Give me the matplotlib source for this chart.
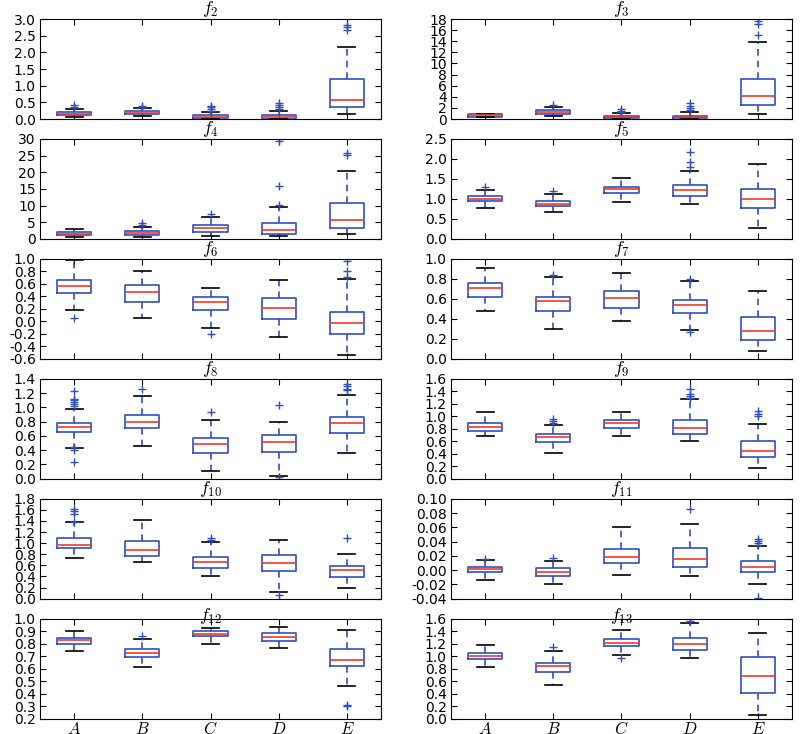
import matplotlib
matplotlib.use('Agg')
import matplotlib.pyplot as plt
from matplotlib.ticker import MultipleLocator, FormatStrFormatter

plt.rcParams['font.family'] = ['DejaVu Sans']
plt.rcParams['mathtext.fontset'] = 'cm'
plt.rcParams['axes.unicode_minus'] = False

categories = ['A', 'B', 'C', 'D', 'E']
titles = ['f_{2}', 'f_{3}', 'f_{4}', 'f_{5}', 'f_{6}', 'f_{7}',
          'f_{8}', 'f_{9}', 'f_{10}', 'f_{11}', 'f_{12}', 'f_{13}']

# box statistics per panel, one value per category A..E
q1 = [
    [0.12, 0.14, 0.02, 0.01, 0.37],
    [0.42, 0.9, 0.1, 0.1, 2.46],
    [1.1, 1.3, 2.0, 1.5, 3.4],
    [0.95, 0.82, 1.15, 1.07, 0.77],
    [0.46, 0.31, 0.18, 0.045, -0.2],
    [0.617, 0.483, 0.507, 0.463, 0.191],
    [0.653, 0.714, 0.366, 0.376, 0.644],
    [0.765, 0.591, 0.816, 0.714, 0.349],
    [0.906, 0.765, 0.56, 0.495, 0.393],
    [-0.0029, -0.0076, 0.0098, 0.0042, -0.0024],
    [0.801, 0.697, 0.858, 0.823, 0.624],
    [0.95, 0.746, 1.165, 1.101, 0.414],
]
med = [
    [0.15, 0.2, 0.07, 0.05, 0.57],
    [0.72, 1.2, 0.3, 0.3, 4.2],
    [1.6, 1.9, 3.2, 2.7, 5.7],
    [1.01, 0.88, 1.25, 1.22, 1.0],
    [0.565, 0.47, 0.31, 0.22, -0.025],
    [0.71, 0.577, 0.604, 0.537, 0.282],
    [0.724, 0.8, 0.488, 0.517, 0.785],
    [0.827, 0.666, 0.891, 0.805, 0.451],
    [0.97, 0.88, 0.658, 0.64, 0.514],
    [0.0009, -0.002, 0.0183, 0.015, 0.0042],
    [0.828, 0.729, 0.879, 0.855, 0.67],
    [1.009, 0.838, 1.213, 1.187, 0.677],
]
q3 = [
    [0.2, 0.25, 0.12, 0.13, 1.19],
    [0.85, 1.55, 0.55, 0.6, 7.26],
    [2.0, 2.3, 4.1, 4.7, 10.7],
    [1.067, 0.95, 1.3, 1.34, 1.25],
    [0.67, 0.575, 0.39, 0.38, 0.15],
    [0.755, 0.62, 0.678, 0.587, 0.416],
    [0.785, 0.888, 0.573, 0.611, 0.864],
    [0.886, 0.709, 0.94, 0.94, 0.601],
    [1.1, 1.03, 0.755, 0.78, 0.586],
    [0.0042, 0.0023, 0.030, 0.0314, 0.0126],
    [0.844, 0.761, 0.898, 0.887, 0.761],
    [1.052, 0.891, 1.272, 1.283, 0.983],
]
lo = [
    [0.07, 0.1, 0.0, 0.0, 0.15],
    [0.3, 0.5, 0.0, 0.0, 0.84],
    [0.6, 0.7, 0.8, 0.9, 1.4],
    [0.77, 0.68, 0.92, 0.87, 0.27],
    [0.18, 0.06, -0.105, -0.245, -0.535],
    [0.476, 0.30, 0.383, 0.29, 0.08],
    [0.427, 0.456, 0.113, 0.033, 0.366],
    [0.677, 0.419, 0.687, 0.607, 0.166],
    [0.73, 0.668, 0.405, 0.127, 0.193],
    [-0.0137, -0.0189, -0.0067, -0.0076, -0.019],
    [0.74, 0.613, 0.80, 0.766, 0.458],
    [0.827, 0.537, 1.015, 0.966, 0.064],
]
hi = [
    [0.3, 0.33, 0.2, 0.24, 2.16],
    [0.96, 2.2, 1.0, 1.2, 13.8],
    [2.9, 3.7, 6.6, 9.7, 20.4],
    [1.22, 1.13, 1.525, 1.7, 1.87],
    [0.98, 0.8, 0.53, 0.655, 0.68],
    [0.913, 0.815, 0.86, 0.78, 0.674],
    [0.973, 1.156, 0.817, 0.794, 1.175],
    [1.068, 0.854, 1.074, 1.283, 0.875],
    [1.39, 1.42, 1.02, 1.05, 0.81],
    [0.0146, 0.0126, 0.06, 0.0648, 0.0333],
    [0.898, 0.834, 0.925, 0.930, 0.909],
    [1.176, 1.09, 1.417, 1.53, 1.364],
]
fliers = [
    [[0.35, 0.42], [0.36, 0.4], [0.25, 0.3, 0.35, 0.4], [0.3, 0.35, 0.42, 0.48], [2.67, 2.75, 2.82]],
    [[], [2.5], [1.2, 1.5, 1.8], [1.6, 2.0, 2.4, 2.8], [15.2, 17.1, 17.6]],
    [[], [4.2, 4.8], [7.6], [10.2, 15.9, 29.5], [25.3, 25.9]],
    [[1.31], [1.2], [], [1.81, 1.92, 2.17], []],
    [[0.05], [], [-0.2], [], [0.71, 0.81, 0.97]],
    [[], [0.84], [], [0.80, 0.27], []],
    [[1.02, 1.05, 1.08, 1.1, 1.12, 1.23, 0.45, 0.4, 0.23], [1.26], [0.94], [1.03, 0.02], [1.24, 1.26, 1.3, 1.33]],
    [[], [0.9, 0.93, 0.96], [], [1.3, 1.32, 1.35, 1.44], [1.0, 1.04, 1.08]],
    [[1.38, 1.52, 1.58, 1.62], [], [1.05, 1.1], [0.06], [1.1]],
    [[0.016], [0.017], [], [0.085], [0.035, 0.038, 0.041, 0.043, -0.039]],
    [[], [0.86], [], [], [0.31, 0.30]],
    [[], [1.14], [0.97], [1.57], []],
]

# y range and tick step per panel
ylims = [(0, 3.0), (0, 18), (0, 30), (0, 2.5), (-0.6, 1.0), (0, 1.0),
         (0, 1.4), (0, 1.6), (0, 1.8), (-0.04, 0.10), (0.2, 1.0), (0, 1.6)]
ysteps = [0.5, 2, 5, 0.5, 0.2, 0.2, 0.2, 0.2, 0.2, 0.02, 0.1, 0.2]
yfmts = ['%.1f', '%d', '%d', '%.1f', '%.1f', '%.1f',
         '%.1f', '%.1f', '%.1f', '%.2f', '%.1f', '%.1f']

blue = '#2f4fc4'
red = '#f03a2a'

fig, axes = plt.subplots(6, 2, figsize=(8, 7.34), dpi=100)
fig.subplots_adjust(left=0.05, right=0.99, top=0.974, bottom=0.021,
                    wspace=0.205, hspace=0.2)

pos = range(1, len(categories) + 1)
for k, ax in enumerate(axes.flat):
    stats = []
    for j in range(len(categories)):
        stats.append(dict(med=med[k][j], q1=q1[k][j], q3=q3[k][j],
                          whislo=lo[k][j], whishi=hi[k][j], fliers=fliers[k][j]))
    ax.bxp(stats, positions=pos, widths=0.5,
           boxprops=dict(color=blue, lw=1.2),
           medianprops=dict(color=red, lw=1.2),
           whiskerprops=dict(color=blue, lw=1.2, ls=(0, (4, 3))),
           capprops=dict(color='black', lw=1.2),
           flierprops=dict(marker='+', markeredgecolor=blue, markersize=6,
                           ls='none', mew=1.0))
    ax.set_xlim(0.5, 5.5)
    ax.set_ylim(*ylims[k])
    ax.yaxis.set_major_locator(MultipleLocator(ysteps[k]))
    ax.yaxis.set_major_formatter(FormatStrFormatter(yfmts[k]))
    ax.set_xticks(list(pos))
    ax.tick_params(direction='in', top=True, right=True, length=4,
                   labelsize=10, pad=3)
    ax.tick_params(axis='x', pad=1)
    if k >= 10:
        ax.set_xticklabels(['$%s$' % c for c in categories], fontsize=12)
    else:
        ax.set_xticklabels([])
    ax.set_title('$%s$' % titles[k], fontsize=13, pad=-1)

plt.savefig('out.png', dpi=100)
